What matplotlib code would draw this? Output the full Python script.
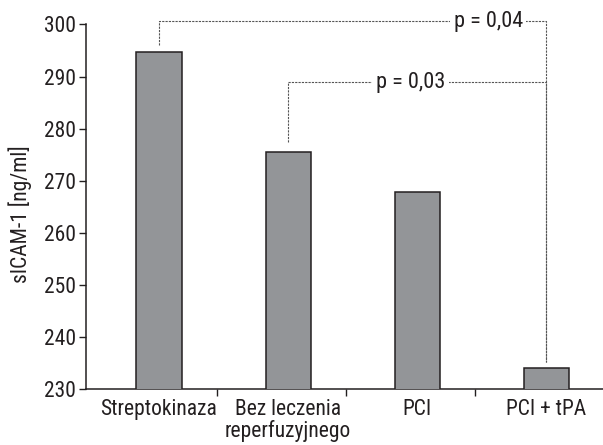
import matplotlib
matplotlib.use("Agg")
import matplotlib.pyplot as plt
import numpy as np

categories = ["Streptokinaza", "Bez leczenia\nreperfuzyjnego", "PCI", "PCI + tPA"]
values = [294.7, 275.6, 267.9, 234.1]
y_ticks = [230, 240, 250, 260, 270, 280, 290, 300]

# significance brackets: (left bar, right bar, label, label x, bracket level, left drop, right drop)
brackets = [
    (0, 3, "p = 0,04", 2.55, 300.6, 296.0, 235.2),
    (1, 3, "p = 0,03", 1.95, 288.9, 277.4, 235.2),
]

plt.rcParams["font.family"] = ["Roboto Condensed", "DejaVu Sans"]
ink = "#231f20"

fig = plt.figure(figsize=(6.03, 4.45), dpi=100)
ax = fig.add_axes([86 / 603, 0.125, 1 - 86 / 603, 0.82])

x = np.arange(len(categories))
ax.bar(x, values, width=0.35, color="#939598", edgecolor=ink, linewidth=1.1, zorder=3)

ax.set_ylim(230, 300)
ax.set_xlim(-0.566, 3.44)
ax.set_yticks(y_ticks)
ax.set_yticklabels([str(t) for t in y_ticks], fontsize=15.5, color=ink)

# separator ticks between categories, labels at bar centres
ax.set_xticks(x[1:] - 0.55)
ax.set_xticklabels([])
ax.set_xticks(x, minor=True)
ax.set_xticklabels(categories, minor=True, fontsize=15.5, color=ink, linespacing=1.0)
ax.tick_params(axis="x", which="minor", length=0, pad=7)
ax.tick_params(axis="x", which="major", length=5, width=1, color=ink, direction="out")
ax.tick_params(axis="y", length=5, width=1, color=ink, direction="out", pad=2)

for s in ["top", "right"]:
    ax.spines[s].set_visible(False)
for s in ["left", "bottom"]:
    ax.spines[s].set_color(ink)
    ax.spines[s].set_linewidth(1.1)

ax.set_ylabel("sICAM-1 [ng/ml]", fontsize=15.5, color=ink)
ax.yaxis.set_label_coords(-0.104, 0.48)

ls = (0, (2.0, 1.0))
for i, j, label, lx, level, drop_l, drop_r in brackets:
    ax.plot([x[i], x[i], x[j], x[j]], [drop_l, level, level, drop_r],
            color="#555555", linewidth=0.8, linestyle=ls, clip_on=False, zorder=2)
    ax.text(lx, level, label, ha="center", va="center", fontsize=16, color=ink,
            bbox=dict(facecolor="white", edgecolor="none", pad=2.5), zorder=4, clip_on=False)

fig.savefig("out.png", dpi=100)
